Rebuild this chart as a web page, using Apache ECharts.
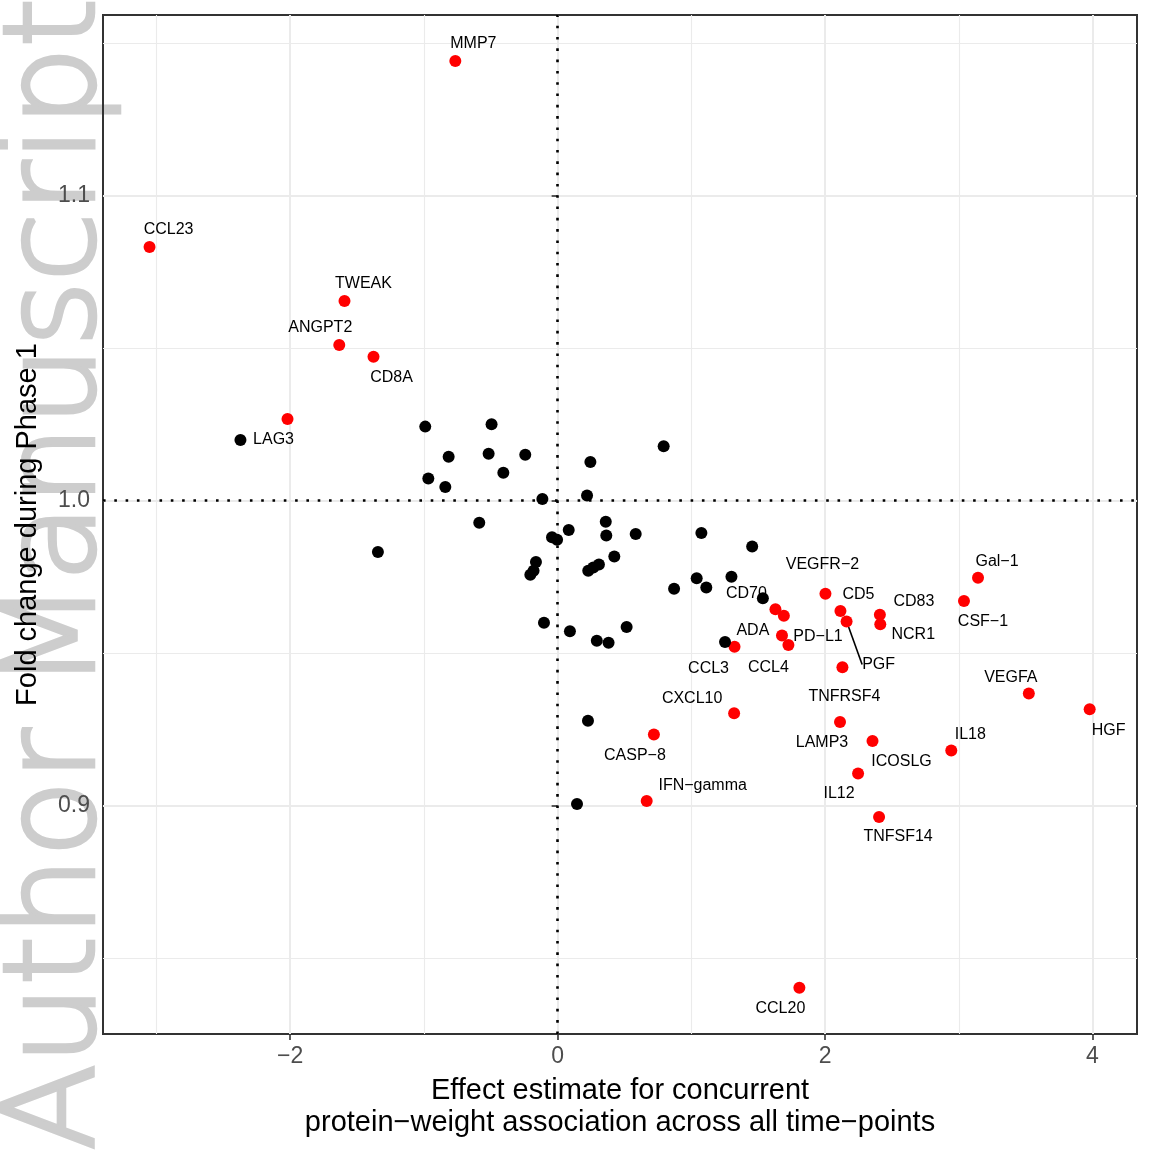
<!DOCTYPE html>
<html>
<head>
<meta charset="utf-8">
<script src="https://cdn.jsdelivr.net/npm/echarts@6/dist/echarts.min.js"></script>
<style>
html,body{margin:0;padding:0;background:#fff;}
#chart{width:1152px;height:1152px;background:#fff;}
</style>
</head>
<body>
<div id="chart"></div>
<script>
// ---- data ----
const redNames = ['MMP7','CCL23','TWEAK','ANGPT2','CD8A','LAG3','VEGFR\u22122','CD5','PGF','CD83','NCR1','Gal\u22121','CSF\u22121','CD70','ADA','PD\u2212L1','CCL4','CCL3','TNFRSF4','VEGFA','HGF','CXCL10','LAMP3','CASP\u22128','ICOSLG','IL18','IL12','IFN\u2212gamma','TNFSF14','CCL20'];
const redX = [-0.765,-3.052,-1.594,-1.633,-1.377,-2.020,2.003,2.115,2.161,2.410,2.413,3.144,3.039,1.629,1.692,1.678,1.726,1.323,2.130,3.524,3.979,1.320,2.112,0.720,2.355,2.944,2.247,0.666,2.404,1.808];
const redY = [1.1441,1.0831,1.0654,1.0510,1.0471,1.0267,0.9694,0.9637,0.9603,0.9625,0.9594,0.9746,0.9670,0.9643,0.9622,0.9557,0.9526,0.9520,0.9453,0.9367,0.9315,0.9302,0.9273,0.9232,0.9211,0.9180,0.9104,0.9014,0.8962,0.8402];
const blackX = [-2.372,-0.990,-0.494,-0.815,-0.516,-0.242,0.245,-0.967,-0.406,-0.840,-0.114,0.220,0.793,-0.586,-1.344,0.083,-0.042,-0.004,0.360,0.364,0.584,1.075,1.455,0.424,-0.162,-0.180,-0.204,0.229,0.267,0.309,0.871,1.040,1.300,1.112,1.535,-0.102,0.092,0.516,0.293,0.381,1.252,0.227,0.145];
const blackY = [1.0198,1.0242,1.0250,1.0143,1.0153,1.0150,1.0126,1.0072,1.0091,1.0044,1.0005,1.0016,1.0178,0.9927,0.9831,0.9903,0.9879,0.9871,0.9930,0.9885,0.9890,0.9893,0.9849,0.9816,0.9798,0.9769,0.9756,0.9769,0.9780,0.9790,0.9710,0.9745,0.9750,0.9714,0.9679,0.9599,0.9571,0.9585,0.9540,0.9533,0.9536,0.9277,0.9004];
const xMajorTicks = [-2,0,2,4];
const xMinorTicks = [-3,-1,1,3];
const yMajorTicks = [0.9,1.0,1.1];
const yMinorTicks = [0.85,0.95,1.05,1.15];
const xTitle = 'Effect estimate for concurrent\nprotein\u2212weight association across all time\u2212points';
const yTitle = 'Fold change during Phase 1';
const watermark = 'Author Manuscript';

// ---- layout of repelled labels (pixel offsets from point centre) ----
const labelOffsets = {
  'MMP7':[18,-19],'CCL23':[19,-19],'TWEAK':[19,-19],'ANGPT2':[-19,-19],'CD8A':[18,19],'LAG3':[-14,19],
  'VEGFR\u22122':[-3,-31],'CD5':[18,-18],'PGF':[32,41],'CD83':[34,-15],'NCR1':[33,8],'Gal\u22121':[19,-18],
  'CSF\u22121':[19,19],'CD70':[-29,-18],'ADA':[-31,13],'PD\u2212L1':[36,-1],'CCL4':[-20,21],'CCL3':[-26,20],
  'TNFRSF4':[2,27],'VEGFA':[-18,-18],'HGF':[19,19],'CXCL10':[-42,-17],'LAMP3':[-18,19],'CASP\u22128':[-19,19],
  'ICOSLG':[29,19],'IL18':[19,-18],'IL12':[-19,18],'IFN\u2212gamma':[56,-17],'TNFSF14':[19,18],'CCL20':[-19,19]
};
const guided = ['PGF'];
const LABEL_DY = 2;

const X_MIN = -3.40, X_MAX = 4.333, Y_MIN = 0.8250, Y_MAX = 1.1592;
const FONT = '"Liberation Sans", Arial, Helvetica, sans-serif';

const redData = redNames.map((n,i)=>{
  const d = {name:n, value:[redX[i], redY[i]]};
  if (guided.indexOf(n) >= 0) d.labelLine = {show:true, lineStyle:{color:'#000', width:1.6}};
  return d;
});
const blackData = blackX.map((x,i)=>[x, blackY[i]]);

function minusFmt(v){ return v < 0 ? '\u2212' + Math.abs(v) : String(v); }

const chart = echarts.init(document.getElementById('chart'), null, {renderer:'canvas'});
const gridLine = {show:true, lineStyle:{color:'#ebebeb', width:2}};
const gridLineMinor = {show:true, lineStyle:{color:'#ebebeb', width:1.1}};
const option = {
  backgroundColor:'transparent',
  animation:false,
  textStyle:{fontFamily:FONT},
  graphic:[{
    type:'text', x:61, y:1150, rotation:Math.PI/2, zlevel:-1, z:0, silent:true,
    style:{text:watermark, fontSize:125, fontWeight:'lighter', fontFamily:'"DejaVu Sans", sans-serif', fill:'#cdcdcd', stroke:'#cdcdcd', lineWidth:4.5, align:'left', verticalAlign:'middle'}
  }],
  grid:{left:103, right:15, top:15, bottom:118, show:true, borderColor:'#333333', borderWidth:2, backgroundColor:'transparent', containLabel:false},
  xAxis:[{
    type:'value', min:X_MIN, max:X_MAX, position:'bottom',
    axisLine:{show:false},
    axisTick:{show:true, customValues:xMajorTicks, length:6, lineStyle:{color:'#333333', width:1.6}},
    axisLabel:{customValues:xMajorTicks, formatter:minusFmt, color:'#4d4d4d', fontSize:23, margin:11, fontFamily:FONT},
    splitLine:gridLine,
    name:xTitle, nameLocation:'middle', nameGap:41,
    nameTextStyle:{fontSize:29, lineHeight:32, color:'#000', fontFamily:FONT}
  },{
    type:'value', min:X_MIN, max:X_MAX, position:'top',
    axisLine:{show:false}, axisLabel:{show:false},
    axisTick:{show:false, customValues:xMinorTicks},
    splitLine:gridLineMinor
  }],
  yAxis:[{
    type:'value', min:Y_MIN, max:Y_MAX, position:'left',
    axisLine:{show:false},
    axisTick:{show:true, customValues:yMajorTicks, length:6, lineStyle:{color:'#333333', width:1.6}},
    axisLabel:{customValues:yMajorTicks, formatter:v=>v.toFixed(1), color:'#4d4d4d', fontSize:23, margin:13, fontFamily:FONT},
    splitLine:gridLine,
    name:yTitle, nameLocation:'middle', nameGap:61,
    nameTextStyle:{fontSize:29, color:'#000', fontFamily:FONT}
  },{
    type:'value', min:Y_MIN, max:Y_MAX, position:'right',
    axisLine:{show:false}, axisLabel:{show:false},
    axisTick:{show:false, customValues:yMinorTicks},
    splitLine:gridLineMinor
  }],
  series:[{
    type:'scatter', data:[], z:1, silent:true,
    markLine:{
      silent:true, symbol:['none','none'], label:{show:false},
      lineStyle:{color:'#000', type:[2.6,8.7], width:2.6},
      data:[{xAxis:0},{yAxis:1}]
    }
  },{
    type:'scatter', data:redData, symbolSize:12, z:3,
    itemStyle:{color:'#ff0000', opacity:1},
    label:{show:true, position:'inside', formatter:'{b}', color:'#000', fontSize:16, fontFamily:FONT},
    labelLayout:function(p){
      const o = labelOffsets[redNames[p.dataIndex]] || [0,0];
      return {dx:o[0], dy:o[1] + LABEL_DY};
    },
    labelLine:{show:false}
  },{
    type:'scatter', data:blackData, symbolSize:12, z:4,
    itemStyle:{color:'#000000', opacity:1}
  }]
};
chart.setOption(option);
</script>
</body>
</html>
